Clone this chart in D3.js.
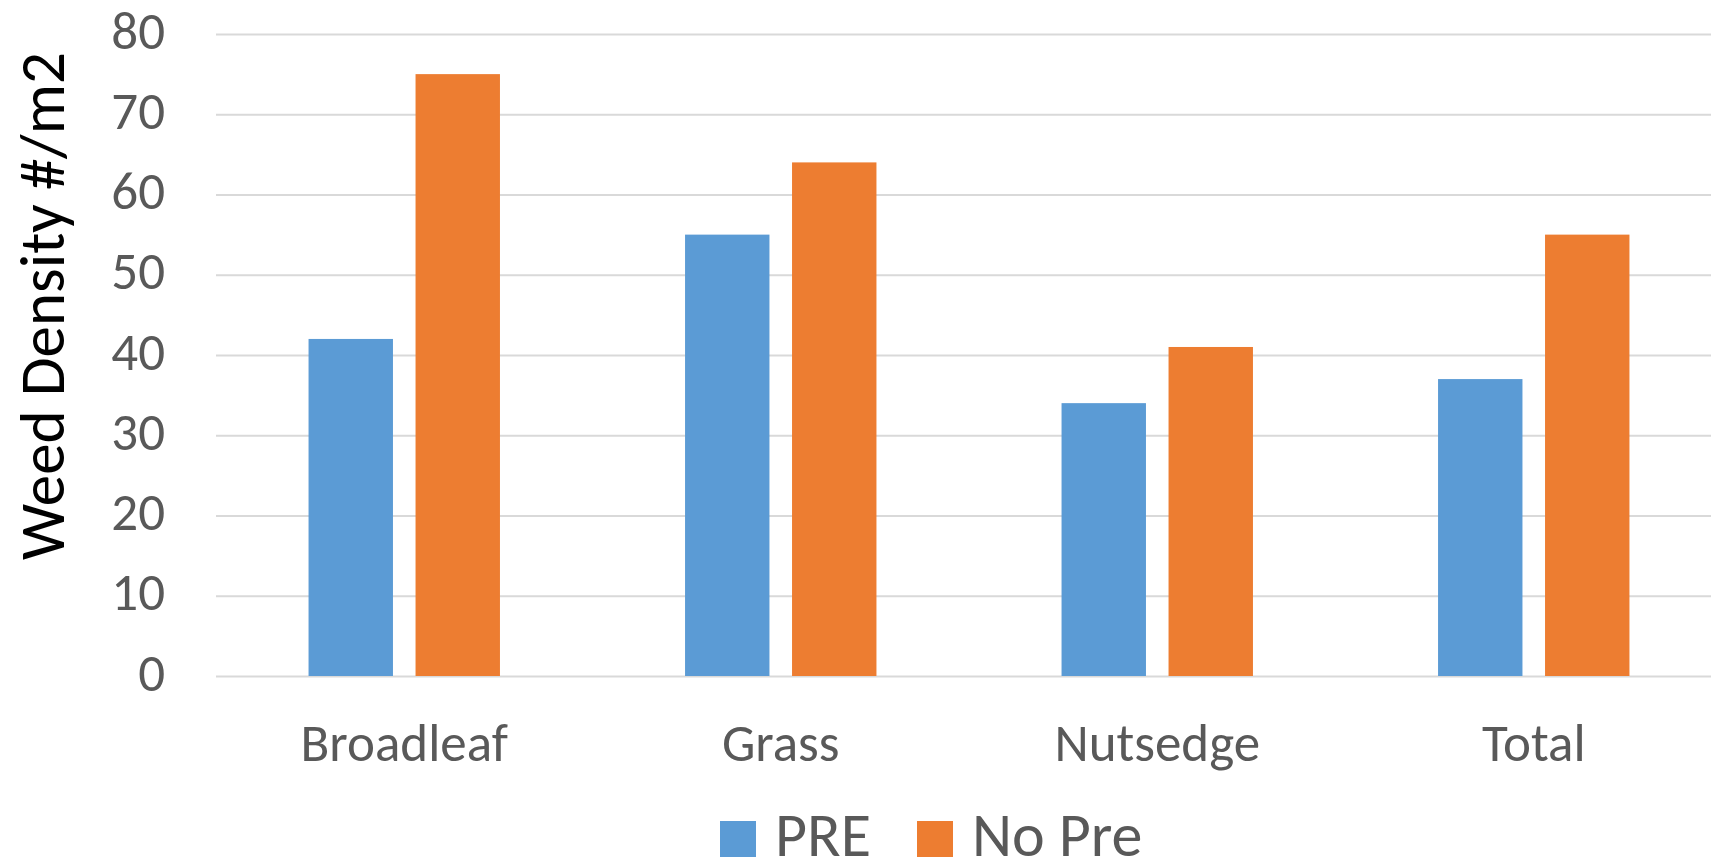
<!DOCTYPE html>
<html>
<head>
<meta charset="utf-8">
<script src="https://cdn.jsdelivr.net/npm/d3@7"></script>
<style>
  html, body { margin: 0; padding: 0; background: #ffffff; overflow: hidden; }
  svg { display: block; }
  text { font-family: Calibri, Carlito, "Open Sans", Lato, sans-serif; }
</style>
</head>
<body>
<svg id="chart" width="1711" height="865"></svg>
<script>
// Weed density by weed type, with and without a pre-emergence herbicide
const categories = ["Broadleaf", "Grass", "Nutsedge", "Total"];
const seriesNames = ["PRE", "No Pre"];
const preValues = [42, 55, 34, 37];
const noPreValues = [75, 64, 41, 55];
const yTicks = [0, 10, 20, 30, 40, 50, 60, 70, 80];
const seriesColors = ["#5B9BD5", "#ED7D31"];
const yTitle = "Weed Density #/m2";

const series = [preValues, noPreValues];
const rows = categories.map((c, i) => ({
  category: c,
  values: seriesNames.map((s, j) => ({ series: s, value: series[j][i] }))
}));

const svg = d3.select("#chart");

const plotLeft = 216, plotRight = 1722, plotTop = 34, plotBottom = 676;

const x0 = d3.scaleBand().domain(categories).range([plotLeft, plotRight]).padding(0);
const x1 = d3.scaleBand().domain(seriesNames).range([0, x0.bandwidth()])
  .paddingInner(0.211).paddingOuter(0.865);
const y = d3.scaleLinear().domain([0, 80]).range([plotBottom, plotTop]);
const color = d3.scaleOrdinal().domain(seriesNames).range(seriesColors);

// horizontal gridlines
const yAxis = d3.axisLeft(y).tickValues(yTicks).tickSize(-(plotRight - plotLeft)).tickFormat("");
const grid = svg.append("g").attr("transform", `translate(${plotLeft},0)`).call(yAxis);
grid.select(".domain").remove();
grid.selectAll(".tick line").attr("stroke", "#d9d9d9").attr("stroke-width", 2);

// y tick labels
svg.append("g").selectAll("text")
  .data(yTicks)
  .join("text")
  .attr("x", 165)
  .attr("y", d => y(d) + 14.5)
  .attr("text-anchor", "end")
  .attr("fill", "#595959")
  .style("font-size", "53px")
  .text(d => d);

// bars
svg.append("g").selectAll("g")
  .data(rows)
  .join("g")
  .attr("transform", d => `translate(${x0(d.category)},0)`)
  .selectAll("rect")
  .data(d => d.values)
  .join("rect")
  .attr("x", d => x1(d.series))
  .attr("y", d => y(d.value))
  .attr("width", x1.bandwidth())
  .attr("height", d => y(0) - y(d.value))
  .attr("fill", d => color(d.series));

// category labels
svg.append("g").selectAll("text")
  .data(categories)
  .join("text")
  .attr("x", d => x0(d) + x0.bandwidth() / 2)
  .attr("y", 761)
  .attr("text-anchor", "middle")
  .attr("fill", "#595959")
  .style("font-size", "53px")
  .text(d => d);

// y axis title
svg.append("text")
  .attr("transform", "translate(64,306) rotate(-90)")
  .attr("text-anchor", "middle")
  .attr("fill", "#000000")
  .style("font-size", "63px")
  .text(yTitle);

// legend
const legendX = [720, 917];
const legend = svg.append("g").selectAll("g")
  .data(seriesNames)
  .join("g")
  .attr("transform", (d, i) => `translate(${legendX[i]},821)`);
legend.append("rect")
  .attr("width", 36)
  .attr("height", 36)
  .attr("fill", d => color(d));
legend.append("text")
  .attr("x", 55)
  .attr("y", 35)
  .attr("fill", "#595959")
  .style("font-size", "62px")
  .text(d => d);
</script>
</body>
</html>
